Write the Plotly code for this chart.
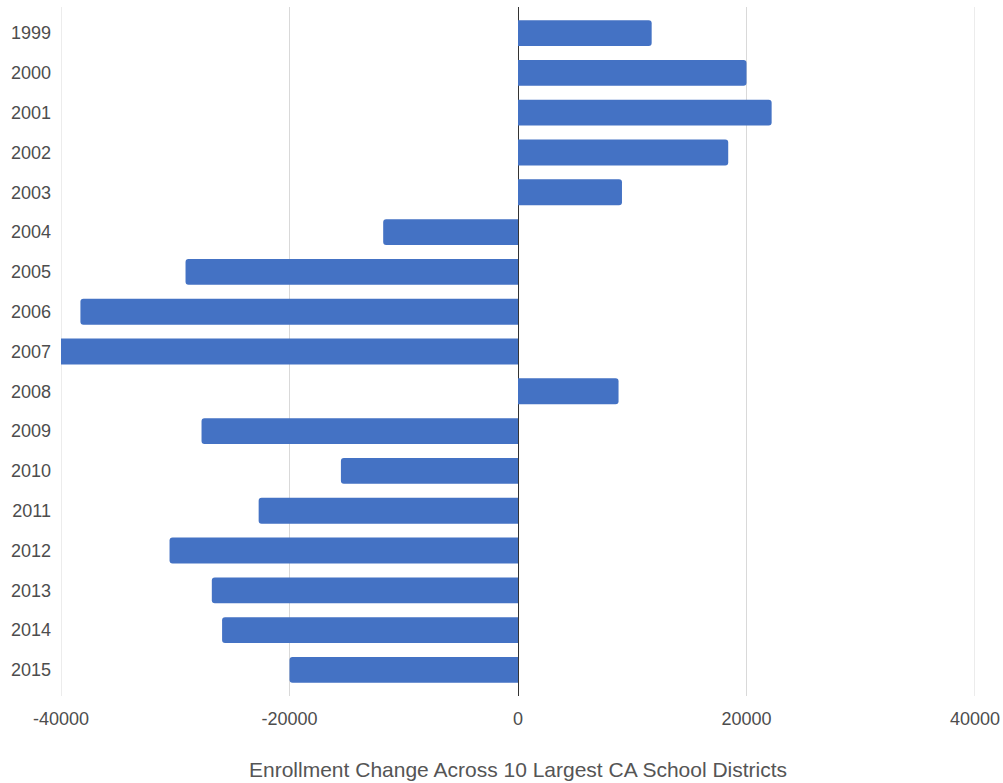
import plotly.graph_objects as go

# Year-over-year enrollment change, 10 largest California school districts
years = ["1999", "2000", "2001", "2002", "2003", "2004", "2005", "2006", "2007",
         "2008", "2009", "2010", "2011", "2012", "2013", "2014", "2015"]
change = [11700, 20000, 22200, 18400, 9100, -11800, -29100, -38300, -41500,
          8800, -27700, -15500, -22700, -30500, -26800, -25900, -20000]

x_ticks = [-40000, -20000, 0, 20000, 40000]
x_tick_text = ["-40000", "-20000", "0", "20000", "40000"]
x_limits = [-40000, 40000]

chart_title = "Enrollment Change Across 10 Largest CA School Districts"
grid_color = "#d9d9d9"

fig = go.Figure(go.Bar(
    x=change,
    y=years,
    orientation="h",
    marker=dict(color="#4472C4", line=dict(width=0)),
    hoverinfo="x+y",
))

# gridlines on the outer edges of the value axis
for xv in x_limits:
    fig.add_shape(
        type="line", xref="x", yref="paper",
        x0=xv, x1=xv, y0=0, y1=1,
        line=dict(color=grid_color, width=1),
        layer="below",
    )

fig.update_layout(
    width=1003,
    height=783,
    margin=dict(l=61, r=28, t=7, b=87),
    paper_bgcolor="white",
    plot_bgcolor="white",
    bargap=0.35,
    barcornerradius=3,
    showlegend=False,
    font=dict(family="Arial, Liberation Sans, sans-serif", size=18, color="#4d4d4d"),
    xaxis=dict(
        range=x_limits,
        tickvals=x_ticks,
        ticktext=x_tick_text,
        automargin=False,
        showgrid=True,
        gridcolor=grid_color,
        gridwidth=1,
        zeroline=True,
        zerolinecolor="#333333",
        zerolinewidth=1,
        showline=False,
        ticks="",
        ticklabelstandoff=10,
        tickfont=dict(size=18, color="#4d4d4d"),
    ),
    yaxis=dict(
        type="category",
        categoryorder="array",
        categoryarray=years,
        range=[16.655, -0.655],
        automargin=False,
        showgrid=False,
        showline=False,
        zeroline=False,
        ticks="",
        ticklabelstandoff=9,
        tickfont=dict(size=18, color="#4d4d4d"),
    ),
    annotations=[dict(
        text=chart_title,
        xref="paper", yref="paper",
        x=0.5, y=-0.1074,
        xanchor="center", yanchor="middle",
        showarrow=False,
        font=dict(size=21, color="#555555"),
    )],
)

fig.write_html("out.html")
